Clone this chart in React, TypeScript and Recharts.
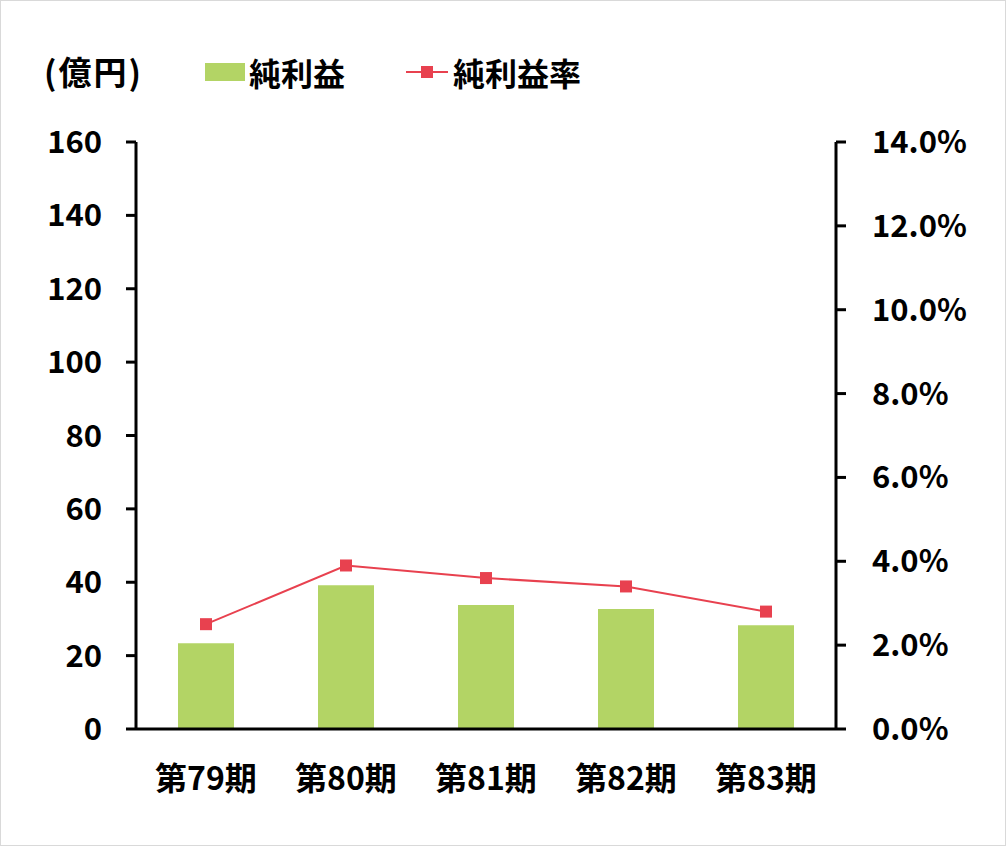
import React from "react";
import { ComposedChart, Bar, Line, XAxis, YAxis } from "recharts";

const periods = ["第79期", "第80期", "第81期", "第82期", "第83期"];
const netIncome = [23.4, 39.2, 33.8, 32.7, 28.3];
const netMargin = [2.5, 3.9, 3.6, 3.4, 2.8];
const leftTicks = [0, 20, 40, 60, 80, 100, 120, 140, 160];
const rightTicks = [0, 2, 4, 6, 8, 10, 12, 14];

const BAR_COLOR = "#B3D465";
const LINE_COLOR = "#E8414F";
const FONT = '"Noto Sans CJK JP", "Noto Sans", sans-serif';

const data = periods.map((p, i) => ({
  name: p,
  income: netIncome[i],
  margin: netMargin[i],
}));

const tickStyle = { fontSize: 31, fill: "#000", fontFamily: FONT, fontWeight: 600 };

// square marker for the line series
const SquareDot = (props: any) => {
  const { cx, cy } = props;
  if (cx == null || cy == null) return null;
  return <rect x={cx - 6} y={cy - 6} width={12} height={12} fill={LINE_COLOR} />;
};

const textStyle: React.CSSProperties = {
  fontFamily: FONT,
  fontSize: 32,
  fontWeight: 600,
  color: "#000",
  lineHeight: "40px",
};

export default function App() {
  return (
    <div
      style={{
        position: "absolute",
        left: 0,
        top: 0,
        width: 1008,
        height: 848,
        background: "#fff",
      }}
    >
      <div
        style={{
          position: "absolute",
          left: 0,
          top: 0,
          width: 1006,
          height: 846,
          border: "1px solid #d9d9d9",
          boxSizing: "border-box",
        }}
      />
      {/* unit label + legend */}
      <div
        style={{
          ...textStyle,
          fontSize: 33,
          letterSpacing: 2,
          position: "absolute",
          left: 44,
          top: 51,
        }}
      >
        (億円)
      </div>
      <div
        style={{
          ...textStyle,
          position: "absolute",
          left: 205,
          top: 52,
          display: "flex",
          alignItems: "center",
        }}
      >
        <span style={{ width: 40, height: 18, background: BAR_COLOR, display: "inline-block" }} />
        <span style={{ marginLeft: 4 }}>純利益</span>
        <svg width={42} height={20} style={{ marginLeft: 61 }}>
          <line x1={0} y1={10} x2={42} y2={10} stroke={LINE_COLOR} strokeWidth={2} />
          <rect x={15} y={4} width={12} height={12} fill={LINE_COLOR} />
        </svg>
        <span style={{ marginLeft: 5 }}>純利益率</span>
      </div>
      <div style={{ position: "absolute", left: 0, top: 0 }}>
        <ComposedChart
          width={1008}
          height={848}
          data={data}
          margin={{ top: 142, right: 0, bottom: 59, left: 0 }}
        >
          <XAxis
            dataKey="name"
            axisLine={{ stroke: "#000", strokeWidth: 3 }}
            tickLine={false}
            tickSize={0}
            tickMargin={38}
            height={60}
            tick={{ ...tickStyle, fontSize: 32 }}
            interval={0}
          />
          <YAxis
            yAxisId="left"
            domain={[0, 160]}
            ticks={leftTicks}
            width={136}
            axisLine={{ stroke: "#000", strokeWidth: 3 }}
            tickLine={{ stroke: "#000", strokeWidth: 3 }}
            tickSize={10}
            tickMargin={24}
            tick={tickStyle}
            interval={0}
          />
          <YAxis
            yAxisId="right"
            orientation="right"
            domain={[0, 14]}
            ticks={rightTicks}
            width={172}
            axisLine={{ stroke: "#000", strokeWidth: 3 }}
            tickLine={{ stroke: "#000", strokeWidth: 3 }}
            tickSize={10}
            tickMargin={26}
            tick={{ ...tickStyle, textAnchor: "start" }}
            tickFormatter={(v: number) => `${v.toFixed(1)}%`}
            interval={0}
          />
          <Bar
            yAxisId="left"
            dataKey="income"
            name="純利益"
            fill={BAR_COLOR}
            barSize={56}
            isAnimationActive={false}
          />
          <Line
            yAxisId="right"
            dataKey="margin"
            name="純利益率"
            stroke={LINE_COLOR}
            strokeWidth={2}
            dot={<SquareDot />}
            activeDot={false}
            isAnimationActive={false}
          />
        </ComposedChart>
      </div>
    </div>
  );
}
